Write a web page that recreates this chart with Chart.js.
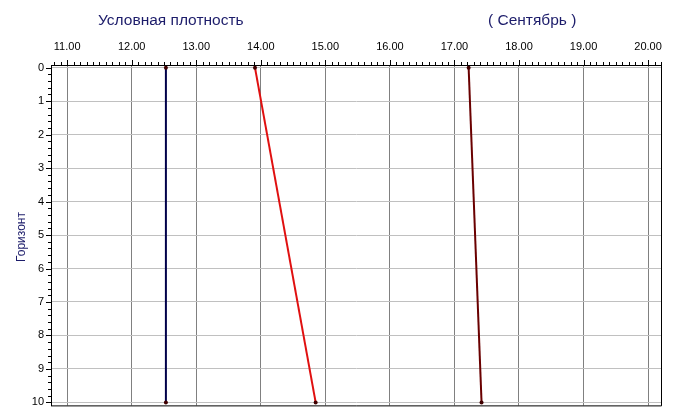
<!DOCTYPE html>
<html>
<head>
<meta charset="utf-8">
<script src="https://cdn.jsdelivr.net/npm/chart.js@4.4.1/dist/chart.umd.min.js"></script>
<style>
  html, body { margin: 0; padding: 0; background: #fff; }
  #wrap { width: 675px; height: 419px; }
</style>
</head>
<body>
<div id="wrap"><canvas id="densityChart" width="675" height="419"></canvas></div>
<script>
// Горизонт (глубина) и условная плотность по трём линиям
const depths = [0, 10];
const navySeries = [12.53, 12.53];
const redSeries = [13.91, 14.85];
const darkRedSeries = [17.22, 17.42];

const xTickValues = [11, 12, 13, 14, 15, 16, 17, 18, 19, 20];
const yTickValues = [0, 1, 2, 3, 4, 5, 6, 7, 8, 9, 10];

const titleLeft = 'Условная плотность';
const titleRight = '( Сентябрь )';
const yTitle = 'Горизонт';

function toPoints(xs) {
    return depths.map((d, i) => ({ x: xs[i], y: d }));
}

function makeSet(label, values, color) {
    return {
        label: label,
        data: toPoints(values),
        borderColor: color,
        backgroundColor: color,
        borderWidth: 2,
        pointRadius: 2,
        pointBackgroundColor: '#400000',
        pointBorderWidth: 0,
        showLine: true,
        tension: 0
    };
}

// рамка, мелкие риски и подписи
const framePlugin = {
    id: 'frame',
    afterDraw(chart) {
        const { ctx, chartArea: a, scales } = chart;
        ctx.save();
        ctx.strokeStyle = '#000';
        ctx.lineWidth = 1;
        ctx.beginPath();
        // верхние риски по X (шаг 0.1)
        for (let i = 108; i <= 202; i++) {
            const v = i / 10;
            const px = Math.round(scales.x.getPixelForValue(v)) + 0.5;
            const len = (i % 10 === 0) ? 5 : 3;
            ctx.moveTo(px, a.top);
            ctx.lineTo(px, a.top - len);
        }
        // левые риски по Y (шаг 0.2)
        for (let i = 0; i <= 50; i++) {
            const v = i / 5;
            const py = Math.round(scales.y.getPixelForValue(v)) + 0.5;
            const len = (i % 5 === 0) ? 5 : 3;
            ctx.moveTo(a.left, py);
            ctx.lineTo(a.left - len, py);
        }
        ctx.stroke();

        ctx.beginPath();
        ctx.moveTo(a.left, a.top + 0.5);
        ctx.lineTo(a.right + 0.5, a.top + 0.5);
        ctx.lineTo(a.right + 0.5, a.bottom + 0.5);
        ctx.lineTo(a.left, a.bottom + 0.5);
        ctx.stroke();

        ctx.fillStyle = '#1c1c6a';
        ctx.font = '15.5px "Liberation Sans", Arial, sans-serif';
        ctx.textBaseline = 'middle';
        ctx.textAlign = 'left';
        ctx.fillText(titleLeft, 98, 21);
        ctx.fillText(titleRight, 488, 21);

        ctx.font = '12px "Liberation Sans", Arial, sans-serif';
        ctx.translate(22, 237);
        ctx.rotate(-Math.PI / 2);
        ctx.textAlign = 'center';
        ctx.fillText(yTitle, 0, 0);
        ctx.restore();
    }
};

const ctx = document.getElementById('densityChart').getContext('2d');

new Chart(ctx, {
    type: 'scatter',
    data: {
        datasets: [
            makeSet('1', navySeries, '#00004a'),
            makeSet('2', redSeries, '#e01010'),
            makeSet('3', darkRedSeries, '#6a0000')
        ]
    },
    options: {
        responsive: false,
        animation: false,
        devicePixelRatio: 1,
        layout: { padding: { left: 0, top: 0, right: 14, bottom: 13 } },
        plugins: {
            legend: { display: false },
            tooltip: { enabled: false }
        },
        scales: {
            x: {
                type: 'linear',
                position: 'top',
                min: 10.75,
                max: 20.2,
                afterBuildTicks(scale) {
                    scale.ticks = xTickValues.map(v => ({ value: v }));
                },
                afterFit(scale) { scale.height = 65; },
                grid: { color: '#808080', lineWidth: 1, tickLength: 0 },
                border: { display: true, color: '#000', width: 1 },
                ticks: {
                    color: '#000',
                    padding: 11,
                    maxRotation: 0,
                    font: { family: '"Liberation Sans", Arial, sans-serif', size: 11 },
                    callback: v => Number(v).toFixed(2)
                }
            },
            y: {
                type: 'linear',
                reverse: true,
                min: -0.08,
                max: 10.09,
                afterBuildTicks(scale) {
                    scale.ticks = yTickValues.map(v => ({ value: v }));
                },
                afterFit(scale) { scale.width = 51; },
                grid: { color: '#c0c0c0', lineWidth: 1, tickLength: 0 },
                border: { display: true, color: '#000', width: 1 },
                ticks: {
                    color: '#000',
                    padding: 7,
                    font: { family: '"Liberation Sans", Arial, sans-serif', size: 11 }
                }
            }
        }
    },
    plugins: [framePlugin]
});
</script>
</body>
</html>
